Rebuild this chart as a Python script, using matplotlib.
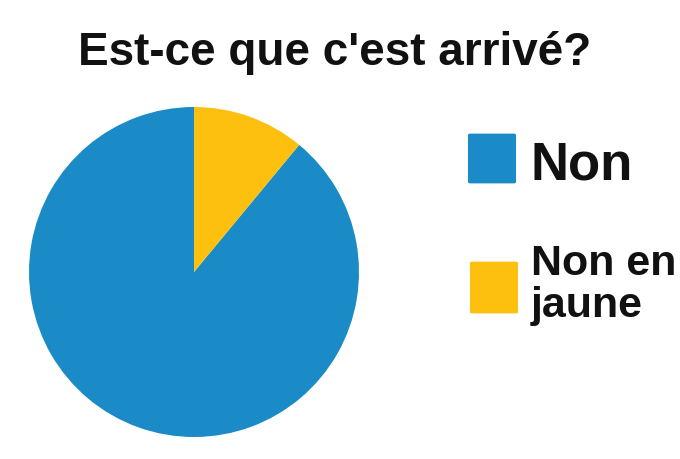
import matplotlib
matplotlib.use("Agg")
import matplotlib.pyplot as plt
from matplotlib.patches import FancyBboxPatch

title = "Est-ce que c'est arrivé?"
labels = ["Non", "Non en\njaune"]
values = [89, 11]
colors = ["#1a8bc6", "#fdc00e"]

plt.rcParams['font.family'] = ['Liberation Sans', 'DejaVu Sans']

W, H = 680, 460
fig = plt.figure(figsize=(6.8, 4.6), dpi=100)
fig.patch.set_facecolor("white")

# pie axes: centre (194, 273) px from top-left, radius 165 px
cx, cy, r = 194, 273, 165
ax = fig.add_axes([(cx - r) / W, (H - cy - r) / H, 2 * r / W, 2 * r / H])
ax.pie(values, colors=colors, startangle=90, counterclock=True,
       radius=1.0, wedgeprops=dict(linewidth=0))
ax.set_xlim(-1, 1)
ax.set_ylim(-1, 1)
ax.set_aspect('equal')
ax.axis('off')

fig.text(335 / W, 1 - 65 / H, title, ha='center', va='baseline',
         fontsize=33, fontweight='bold', color='#111111')

# legend
squares = [(468, 134, 48, 51), (470, 262, 48, 53)]
text_pos = [(531, 180, 38), (531, 317, 31)]
for (x, y, w, h), col in zip(squares, colors):
    p = FancyBboxPatch(((x + 2) / W, 1 - (y + h - 2) / H), (w - 4) / W, (h - 4) / H,
                       boxstyle="round,pad=0.003", transform=fig.transFigure,
                       facecolor=col, edgecolor='none')
    fig.patches.append(p)

for lab, (x, y, fs) in zip(labels, text_pos):
    fig.text(x / W, 1 - y / H, lab, ha='left', va='baseline', fontsize=fs,
             fontweight='bold', color='#111111', linespacing=1.07)

fig.savefig("out.png", dpi=100, facecolor="white")
